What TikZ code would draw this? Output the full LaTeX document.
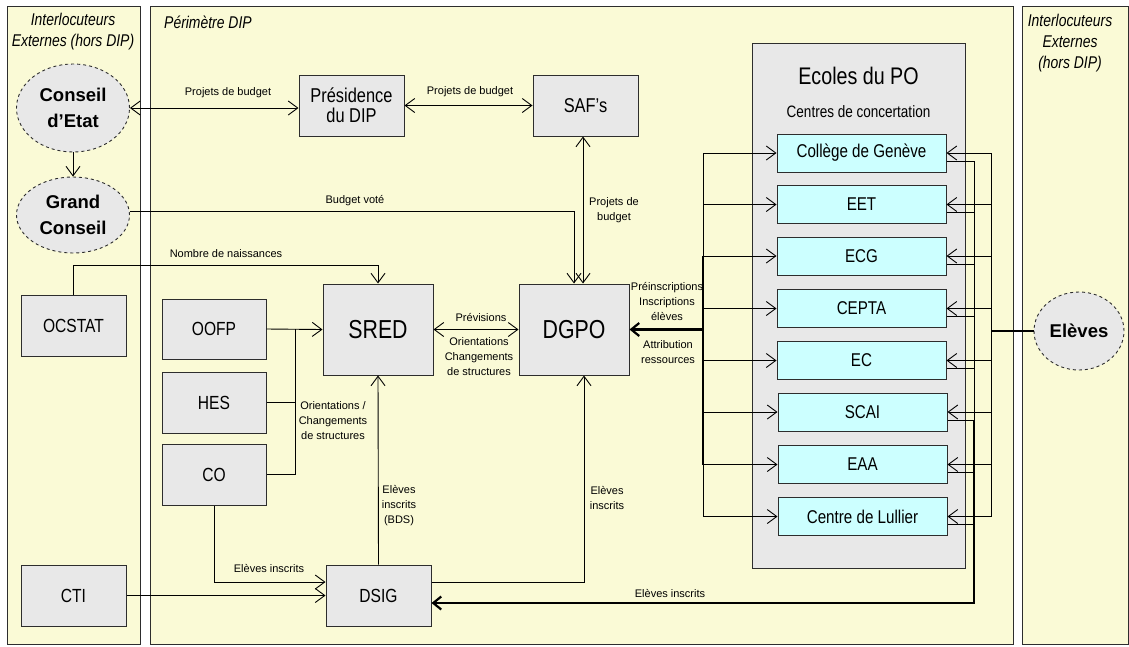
\documentclass[tikz,border=0pt]{standalone}
\usepackage{fontspec}
\setmainfont{Liberation Sans}
\newfontfamily\narrowfont{Liberation Sans}[FakeStretch=0.82]
\usetikzlibrary{shapes.geometric,arrows.meta}
\definecolor{panelyellow}{RGB}{250,250,214}
\definecolor{boxgray}{RGB}{232,232,232}
\definecolor{cyanbox}{RGB}{204,255,255}
\definecolor{edge}{RGB}{45,45,45}
\newcommand\lblfont{\fontsize{11}{15}\selectfont}
\begin{document}
\begin{tikzpicture}[x=1pt,y=-1pt,
  panel/.style={draw=edge,fill=panelyellow,line width=0.9pt},
  gbox/.style={rectangle,draw=edge,fill=boxgray,line width=1pt,inner sep=0pt,align=center,
     font=\narrowfont\fontsize{19}{20}\selectfont,minimum width=105pt,minimum height=61pt},
  bigbox/.style={gbox,minimum width=110pt,minimum height=91pt,font=\narrowfont\fontsize{26}{28}\selectfont},
  sbox/.style={rectangle,draw=edge,fill=cyanbox,line width=1pt,inner sep=0pt,
     font=\narrowfont\fontsize{18.5}{20}\selectfont,minimum width=169pt,minimum height=38pt},
  ell/.style={ellipse,draw=edge,dashed,fill=boxgray,line width=0.9pt,inner sep=0pt,align=center,
     font=\bfseries\fontsize{18.5}{26}\selectfont,minimum width=113pt},
  lbl/.style={align=center,inner sep=0pt,font=\lblfont},
  ttl/.style={align=center,inner sep=0pt,font=\narrowfont\itshape\fontsize{17}{21}\selectfont},
  arr/.style={-{Straight Barb[length=9.5pt,width=14pt]},line width=0.9pt},
  darr/.style={{Straight Barb[length=9.5pt,width=14pt]}-{Straight Barb[length=9.5pt,width=14pt]},line width=0.9pt},
  line/.style={line width=0.9pt},
  thickline/.style={line width=2.2pt},
  thickarr/.style={-{Straight Barb[length=8pt,width=13pt]},line width=2.2pt}
]
\useasboundingbox (0,0) rectangle (1129,646);
% panels
\draw[panel] (7,6) rectangle (140,644);
\draw[panel] (150,6) rectangle (1013,644);
\draw[panel] (1022,6) rectangle (1128,644);
\node[ttl] (t1) at (73,32) {Interlocuteurs\\Externes (hors DIP)};
\node[ttl,anchor=west] (t2) at (164,22) {Périmètre DIP};
\node[ttl] (t3) at (1070,43) {Interlocuteurs\\Externes\\(hors DIP)};

% external nodes
\node[ell,minimum height=88pt] (conseil) at (73,108) {Conseil\\d’Etat};
\node[ell,minimum height=76pt] (grand) at (73,215) {Grand\\Conseil};
\node[gbox] (ocstat) at (73.5,326) {OCSTAT};
\node[gbox] (cti) at (73.5,595.5) {CTI};
\node[ell,minimum width=90pt,minimum height=78pt] (eleves) at (1079,331) {Elèves};

% DIP nodes
\node[gbox,font=\narrowfont\fontsize{20}{20}\selectfont] (pres) at (351.5,105.5) {Présidence\\du DIP};
\node[gbox,font=\narrowfont\fontsize{20}{20}\selectfont] (saf) at (585.5,105.5) {SAF’s};
\node[gbox,minimum width=104pt,minimum height=60pt] (oofp) at (214,329) {OOFP};
\node[gbox,minimum width=104pt] (hes) at (214,402.5) {HES};
\node[gbox,minimum width=104pt] (co) at (214,474.5) {CO};
\node[bigbox] (sred) at (378,329.5) {SRED};
\node[bigbox] (dgpo) at (574,329.5) {DGPO};
\node[gbox] (dsig) at (378.5,595.5) {DSIG};

% Ecoles du PO
\node[rectangle,draw=edge,fill=boxgray,line width=1pt,minimum width=213pt,minimum height=525pt,inner sep=0pt] (ecoles) at (858.5,305.5) {};
\node[inner sep=0pt,font=\narrowfont\fontsize{24}{26}\selectfont] (ecolesT) at (858.5,76) {Ecoles du PO};
\node[inner sep=0pt,font=\narrowfont\fontsize{16.5}{18}\selectfont] (centres) at (858.5,112) {Centres de concertation};
\node[sbox] (cg) at (861.5,153) {Collège de Genève};
\node[sbox] (eet) at (861.5,204.5) {EET};
\node[sbox] (ecg) at (861.5,256) {ECG};
\node[sbox] (cepta) at (861.5,308.5) {CEPTA};
\node[sbox] (ec) at (861.5,360.5) {EC};
\node[sbox] (scai) at (862.5,412) {SCAI};
\node[sbox] (eaa) at (862.5,464.5) {EAA};
\node[sbox] (lullier) at (862.5,516.5) {Centre de Lullier};

\coordinate (busL) at (703,0);
\coordinate (busO) at (974,0);
\coordinate (busE) at (991,0);
\coordinate (jOr) at (295,329);

% connectors
\draw[darr] (conseil.east) -- (conseil.east -| pres.west);
\node[lbl] (l1) at (228,93) {Projets de budget};
\draw[darr] (pres.east) -- (saf.west);
\node[lbl] (l2) at (470,92) {Projets de budget};
\draw[darr] ([xshift=-2.5pt]saf.south) -- ([xshift=-2.5pt]saf.south |- dgpo.north);
\node[lbl] (l3) at (614,210) {Projets de\\budget};
\draw[arr] ([yshift=4pt]grand.east) -| (dgpo.north);
\node[lbl] (l4) at (355,201) {Budget voté};
\draw[arr] (conseil.south) -- (grand.north);
\draw[arr] (ocstat.north) -- ++(0,-30) -| (sred.north);
\node[lbl] (l5) at (226,254) {Nombre de naissances};
\draw[arr] (oofp.east) -- (sred.west);
\draw[line] (hes.east) -- (hes.east -| jOr);
\draw[line] (co.east) -| (jOr);
\node[lbl] (l6) at (333,421) {Orientations /\\Changements\\de structures};
\draw[darr] (sred.east) -- (dgpo.west);
\node[lbl] (l7) at (481,317) {Prévisions};
\node[lbl] (l8) at (479,357) {Orientations\\Changements\\de structures};
\draw[arr] (co.south) |- ([yshift=13.5pt]dsig.west);
\node[lbl] (l9) at (269,568) {Elèves inscrits};
\draw[arr] (cti.east) -- (dsig.west);
\draw[arr] (dsig.north) -- (sred.south);
\node[lbl] (l10) at (399,506) {Elèves\\inscrits\\(BDS)};
\draw[arr] ([yshift=13.5pt]dsig.east) -| ([xshift=10pt]dgpo.south);
\node[lbl] (l11) at (607,498) {Elèves\\inscrits};

% school buses
\foreach \s in {cg,eet,ecg,cepta,ec,scai,eaa,lullier} {
  \draw[arr] (\s.west -| busL) -- (\s.west);
  \draw[arr] (\s.east -| busE) -- (\s.east);
  \draw[line] ([yshift=-8pt]\s.east) -- ([yshift=-8pt]\s.east -| busO);
}
\draw[line] (cg.west -| busL) -- (lullier.west -| busL);
\draw[thickline] (ecg.west -| busL) -- (eaa.west -| busL);
\draw[thickarr] (dgpo.east -| busL) -- (dgpo.east);
\node[lbl] (l12) at (667,301) {Préinscriptions\\Inscriptions\\élèves};
\node[lbl] (l13) at (668,352) {Attribution\\ressources};

\draw[line] (cg.east -| busE) -- (lullier.east -| busE);
\draw[thickline] (eleves.west) -- (eleves.west -| busE);

\draw[line] ([yshift=-8pt]cg.east -| busO) -- ([yshift=-8pt]scai.east -| busO);
\draw[thickarr] ([yshift=-8pt]scai.east -| busO) |- ([yshift=-7.5pt]dsig.east);
\node[lbl] (l14) at (670,593) {Elèves inscrits};
\end{tikzpicture}
\end{document}
